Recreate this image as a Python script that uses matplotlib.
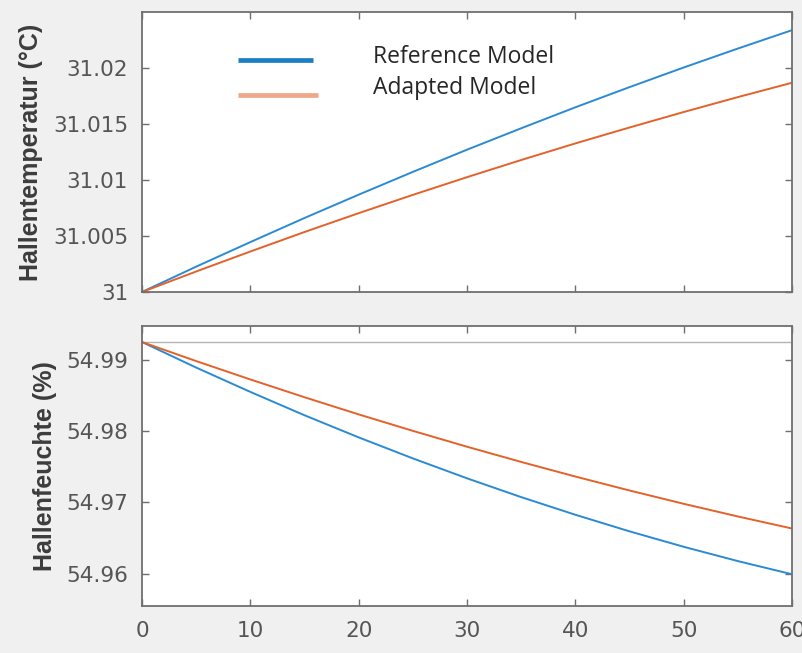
import matplotlib
matplotlib.use("Agg")
import matplotlib.pyplot as plt
from matplotlib.lines import Line2D

# Simulation time axis (minutes)
time_min = [0, 5, 10, 15, 20, 25, 30, 35, 40, 45, 50, 55, 60]

# Hall temperature (°C)
temp_reference = [31.0, 31.00226, 31.00445, 31.00660, 31.00868, 31.01071, 31.01269,
                  31.01460, 31.01647, 31.01827, 31.02002, 31.02171, 31.02335]
temp_adapted = [31.0, 31.00183, 31.00361, 31.00535, 31.00703, 31.00866, 31.01024,
                31.01177, 31.01325, 31.01467, 31.01605, 31.01738, 31.01866]

# Hall relative humidity (%)
hum_initial = 54.99253
hum_reference = [54.99253, 54.98894, 54.98552, 54.98224, 54.97913, 54.97618, 54.97338,
                 54.97074, 54.96826, 54.96593, 54.96376, 54.96175, 54.95990]
hum_adapted = [54.99253, 54.98985, 54.98727, 54.98477, 54.98236, 54.98005, 54.97782,
               54.97568, 54.97363, 54.97167, 54.96980, 54.96802, 54.96633]

x_ticks = [0, 10, 20, 30, 40, 50, 60]
temp_ticks = [31.0, 31.005, 31.01, 31.015, 31.02]
temp_ticklabels = ["31", "31.005", "31.01", "31.015", "31.02"]
hum_ticks = [54.96, 54.97, 54.98, 54.99]
hum_ticklabels = ["54.96", "54.97", "54.98", "54.99"]

series_names = ["Reference Model", "Adapted Model"]

BLUE = "#2a8bd3"
ORANGE = "#e4612a"
BLUE_LEG = "#1c7dc7"
ORANGE_LEG = "#eea78a"
SPINE = "#6f6f6f"
TICKTXT = "#555555"
BG = "#f0f0f0"
TICKFONT = "DejaVu Sans"
TICKSIZE = 15.5

W, H = 802, 653
fig = plt.figure(figsize=(W / 100, H / 100), dpi=100, facecolor=BG)


def frame(left, top, right, bottom):
    return [left / W, 1 - bottom / H, (right - left) / W, (bottom - top) / H]


ax1 = fig.add_axes(frame(142, 12, 792, 292))
ax2 = fig.add_axes(frame(142, 326, 792, 606))

for ax in (ax1, ax2):
    ax.set_facecolor("white")
    for sp in ax.spines.values():
        sp.set_color(SPINE)
        sp.set_linewidth(1.3)
    ax.tick_params(direction="in", length=5, width=1.0, color=SPINE,
                   top=True, right=True, labelsize=TICKSIZE, labelcolor=TICKTXT)
    ax.tick_params(axis="y", pad=10)
    ax.tick_params(axis="x", pad=11)
    ax.set_xlim(0, 60)
    ax.set_xticks(x_ticks)

# Upper panel: temperature
ax1.plot(time_min, temp_reference, color=BLUE, lw=1.4)
ax1.plot(time_min, temp_adapted, color=ORANGE, lw=1.4)
ax1.set_ylim(31.0, 31.02497)
ax1.set_yticks(temp_ticks)
ax1.set_yticklabels(temp_ticklabels, fontfamily=TICKFONT)
ax1.tick_params(labelbottom=False)
ax1.set_ylabel("Hallentemperatur (°C)", fontsize=18, fontweight="bold",
               color="#3c3c3c", fontfamily="Liberation Sans", labelpad=7)

# Legend drawn in axes coordinates
ax1.add_line(Line2D([0.148, 0.263], [0.830, 0.830], transform=ax1.transAxes,
                    color=BLUE_LEG, lw=3.4, solid_capstyle="butt"))
ax1.add_line(Line2D([0.148, 0.270], [0.705, 0.705], transform=ax1.transAxes,
                    color=ORANGE_LEG, lw=3.4, solid_capstyle="butt"))
ax1.text(0.355, 0.84, series_names[0], transform=ax1.transAxes, fontsize=16.5,
         fontfamily="Open Sans", color="#262626", va="center", ha="left")
ax1.text(0.355, 0.73, series_names[1], transform=ax1.transAxes, fontsize=16.5,
         fontfamily="Open Sans", color="#262626", va="center", ha="left")

# Lower panel: humidity
ax2.axhline(hum_initial, color="#b4b4b4", lw=1.0)
ax2.plot(time_min, hum_reference, color=BLUE, lw=1.4)
ax2.plot(time_min, hum_adapted, color=ORANGE, lw=1.4)
ax2.set_ylim(54.95544, 54.99478)
ax2.set_yticks(hum_ticks)
ax2.set_yticklabels(hum_ticklabels, fontfamily=TICKFONT)
ax2.set_xticklabels([str(v) for v in x_ticks], fontfamily=TICKFONT)
ax2.set_ylabel("Hallenfeuchte (%)", fontsize=18, fontweight="bold",
               color="#3c3c3c", fontfamily="Liberation Sans", labelpad=7)

fig.savefig("out.png", dpi=100, facecolor=BG)
